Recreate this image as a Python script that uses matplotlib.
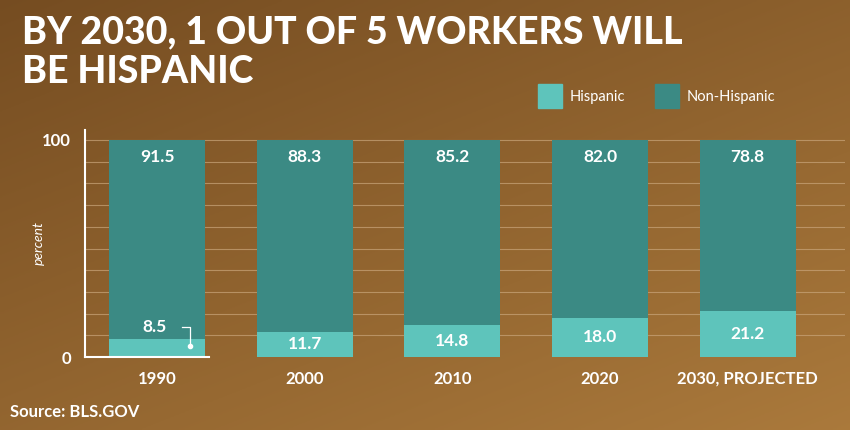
import matplotlib
matplotlib.use("Agg")
import matplotlib.pyplot as plt
import numpy as np

categories = ["1990", "2000", "2010", "2020", "2030, PROJECTED"]
hispanic = [8.5, 11.7, 14.8, 18.0, 21.2]
non_hispanic = [91.5, 88.3, 85.2, 82.0, 78.8]

c_h = "#5ec4bb"
c_n = "#3b8a84"
W, H = 850, 430
fig = plt.figure(figsize=(8.5, 4.3), dpi=100)

bg = fig.add_axes([0, 0, 1, 1])
yy, xx = np.mgrid[0:1:200j, 0:1:400j]
t = 0.45 * yy + 0.35 * xx
c1 = np.array([0.46, 0.30, 0.13]); c2 = np.array([0.72, 0.52, 0.26])
img = c1[None, None, :] * (1 - t[..., None]) + c2[None, None, :] * t[..., None]
bg.imshow(img, aspect="auto", extent=[0, 1, 0, 1], origin="upper")
bg.axis("off")

fn = "Lato"
fig.text(22/W, 1 - 52/H, "BY 2030, 1 OUT OF 5 WORKERS WILL\nBE HISPANIC", color="white",
         fontsize=27, fontweight="heavy", family=fn, va="center", linespacing=1.2)
fig.text(10/W, 1 - 412/H, "Source: BLS.GOV", color="white", fontsize=12, fontweight="bold", family=fn, va="center")

for x0, col, lab in [(538, c_h, "Hispanic"), (655, c_n, "Non-Hispanic")]:
    fig.patches.append(plt.Rectangle((x0/W, 1 - 108/H), 24/W, 24/H, color=col, transform=fig.transFigure))
    fig.text((x0 + 32)/W, 1 - 97/H, lab, color="white", fontsize=10.5, family=fn, va="center")

x0, x1 = 85, 845
y0, y1 = 357, 130
ax = fig.add_axes([x0/W, 1 - y0/H, (x1-x0)/W, (y0-y1)/H])
ax.set_facecolor("none")
ax.set_ylim(0, 100 * (y0 - y1) / (357 - 140))
ax.set_xlim(-0.49, 4.66)
for g in range(10, 101, 10):
    ax.axhline(g, color="#c9a57a", lw=0.8, alpha=0.7, zorder=0)
x = np.arange(len(categories))
ax.bar(x, hispanic, width=0.65, color=c_h, zorder=2)
ax.bar(x, non_hispanic, bottom=hispanic, width=0.65, color=c_n, zorder=2)
for i in x:
    ax.text(i, 96, f"{non_hispanic[i]:.1f}", color="white", fontsize=12.5, fontweight="bold",
            family=fn, ha="center", va="top")
    if i == 0:
        ax.text(i - 0.02, 14, f"{hispanic[i]:.1f}", color="white", fontsize=12.5, fontweight="bold",
                family=fn, ha="center", va="center")
        ax.plot([i + 0.17, i + 0.22, i + 0.22], [14, 14, 5], color="white", lw=0.9, zorder=3)
        ax.plot([i + 0.22], [5], "o", color="white", ms=3, zorder=3)
    else:
        ax.text(i, hispanic[i] / 2, f"{hispanic[i]:.1f}", color="white", fontsize=12.5,
                fontweight="bold", family=fn, ha="center", va="center")
for s in ["top", "right"]:
    ax.spines[s].set_visible(False)
for s in ["left", "bottom"]:
    ax.spines[s].set_color("white"); ax.spines[s].set_linewidth(1.5)
ax.spines["bottom"].set_bounds(-0.49, 0.35)
ax.set_yticks([0, 100]); ax.set_yticklabels(["0", "100"])
ax.set_xticks(x); ax.set_xticklabels(categories)
ax.tick_params(colors="white", length=0, labelsize=12, pad=10)
for lb in ax.get_xticklabels() + ax.get_yticklabels():
    lb.set_fontweight("bold"); lb.set_family(fn)
ax.set_ylabel("percent", color="white", fontsize=10, style="italic", family=fn, labelpad=-2)
fig.savefig("out.png", dpi=100)
